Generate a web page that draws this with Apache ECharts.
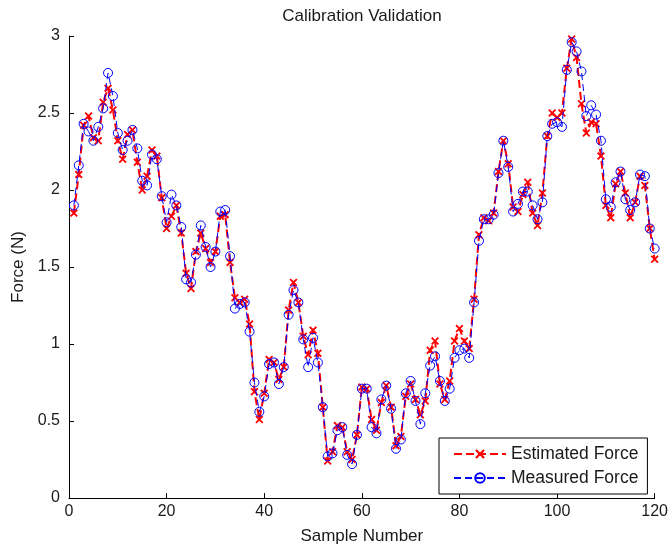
<!DOCTYPE html>
<html>
<head>
<meta charset="utf-8">
<script src="https://cdn.jsdelivr.net/npm/echarts@6/dist/echarts.min.js"></script>
<style>html,body{margin:0;padding:0;background:#fff;}#c{width:671px;height:550px;}</style>
</head>
<body>
<div id="c"></div>
<script>
const titleText = 'Calibration Validation';
const xName = 'Sample Number';
const yName = 'Force (N)';
const seriesNames = ['Estimated Force', 'Measured Force'];
const samples = Array.from({length: 120}, (_, i) => i + 1);
const estimated = [
1.85,2.10,2.42,2.48,2.34,2.32,2.57,2.66,2.52,2.32,
2.20,2.36,2.39,2.18,2.00,2.09,2.26,2.22,1.95,1.75,
1.83,1.90,1.72,1.46,1.36,1.60,1.72,1.62,1.53,1.60,
1.83,1.84,1.53,1.30,1.27,1.29,1.13,0.69,0.51,0.68,
0.90,0.88,0.77,0.85,1.22,1.40,1.27,1.05,0.93,1.09,
0.94,0.59,0.24,0.30,0.47,0.46,0.30,0.25,0.41,0.72,
0.71,0.51,0.44,0.62,0.73,0.59,0.34,0.40,0.66,0.74,
0.64,0.54,0.63,0.96,1.02,0.74,0.64,0.76,1.02,1.10,
1.02,0.97,1.29,1.71,1.82,1.80,1.85,2.12,2.32,2.17,
1.89,1.86,1.97,2.05,1.85,1.77,1.98,2.35,2.50,2.47,
2.50,2.79,2.98,2.86,2.56,2.37,2.44,2.43,2.22,1.90,
1.82,2.04,2.12,1.98,1.82,1.92,2.09,2.03,1.75,1.55];
const measured = [
1.90,2.16,2.43,2.38,2.32,2.41,2.53,2.76,2.61,2.37,
2.26,2.32,2.39,2.27,2.06,2.03,2.23,2.20,1.96,1.79,
1.97,1.90,1.76,1.42,1.40,1.58,1.77,1.63,1.50,1.60,
1.86,1.87,1.57,1.23,1.26,1.27,1.08,0.75,0.56,0.66,
0.87,0.88,0.74,0.85,1.19,1.35,1.27,1.03,0.85,1.04,
0.88,0.59,0.27,0.29,0.44,0.46,0.28,0.22,0.41,0.71,
0.71,0.46,0.42,0.64,0.73,0.58,0.32,0.38,0.68,0.76,
0.63,0.48,0.68,0.86,0.92,0.76,0.63,0.71,0.91,0.96,
0.97,0.91,1.27,1.67,1.81,1.81,1.84,2.11,2.32,2.15,
1.86,1.91,1.99,1.99,1.90,1.81,1.92,2.35,2.43,2.44,
2.41,2.78,2.96,2.90,2.77,2.48,2.55,2.49,2.32,1.94,
1.89,2.05,2.12,1.94,1.87,1.92,2.10,2.09,1.75,1.62];

const font = '"Liberation Sans", Arial, sans-serif';
const txt = '#1a1a1a';
const crossPath = 'path://M0,1.6L1.6,0L5,3.4L8.4,0L10,1.6L6.6,5L10,8.4L8.4,10L5,6.6L1.6,10L0,8.4L3.4,5Z';

const chart = echarts.init(document.getElementById('c'), null, {renderer: 'canvas'});
const axisCommon = {
  axisLine: {show: true, lineStyle: {color: '#000', width: 1}},
  axisTick: {show: true, inside: true, length: 5, lineStyle: {color: '#000'}},
  splitLine: {show: false},
  nameTextStyle: {color: txt, fontFamily: font, fontSize: 17},
  nameLocation: 'middle'
};
chart.setOption({
  animation: false,
  backgroundColor: '#fff',
  title: {text: titleText, left: 362, textAlign: 'center', top: 8, padding: 0,
    textStyle: {color: txt, fontFamily: font, fontSize: 17, fontWeight: 'normal'}},
  grid: {left: 69, right: 15, top: 36, bottom: 52, containLabel: false},
  xAxis: Object.assign({type: 'value', min: 0, max: 120, interval: 20, name: xName, nameGap: 30}, axisCommon,
    {axisLabel: {color: txt, fontFamily: font, fontSize: 16, margin: 6}}),
  yAxis: Object.assign({type: 'value', min: 0, max: 3, interval: 0.5, name: yName, nameGap: 38}, axisCommon,
    {axisLabel: {color: txt, fontFamily: font, fontSize: 16, margin: 9}}),
  legend: {
    orient: 'vertical', left: 439, top: 438,
    backgroundColor: '#fff', borderColor: '#000', borderWidth: 1, borderRadius: 0,
    padding: [6, 9, 6, 14], itemGap: 4, itemWidth: 52, itemHeight: 12,
    textStyle: {color: txt, fontFamily: font, fontSize: 17.5, lineHeight: 20},
    data: seriesNames
  },
  series: [
    {
      name: seriesNames[0], type: 'line',
      data: samples.map((s, i) => [s, estimated[i]]),
      symbol: crossPath, symbolSize: 8, showAllSymbol: true,
      itemStyle: {color: '#ff0000'},
      lineStyle: {color: '#ff0000', width: 2, type: [8, 4]},
      z: 2
    },
    {
      name: seriesNames[1], type: 'line',
      data: samples.map((s, i) => [s, measured[i]]),
      symbol: 'circle', symbolSize: 9, showAllSymbol: true,
      itemStyle: {color: 'rgba(255,255,255,0)', borderColor: '#0000ff', borderWidth: 1},
      lineStyle: {color: '#0000ff', width: 1, type: [7, 4]},
      z: 3
    }
  ]
});
</script>
</body>
</html>
